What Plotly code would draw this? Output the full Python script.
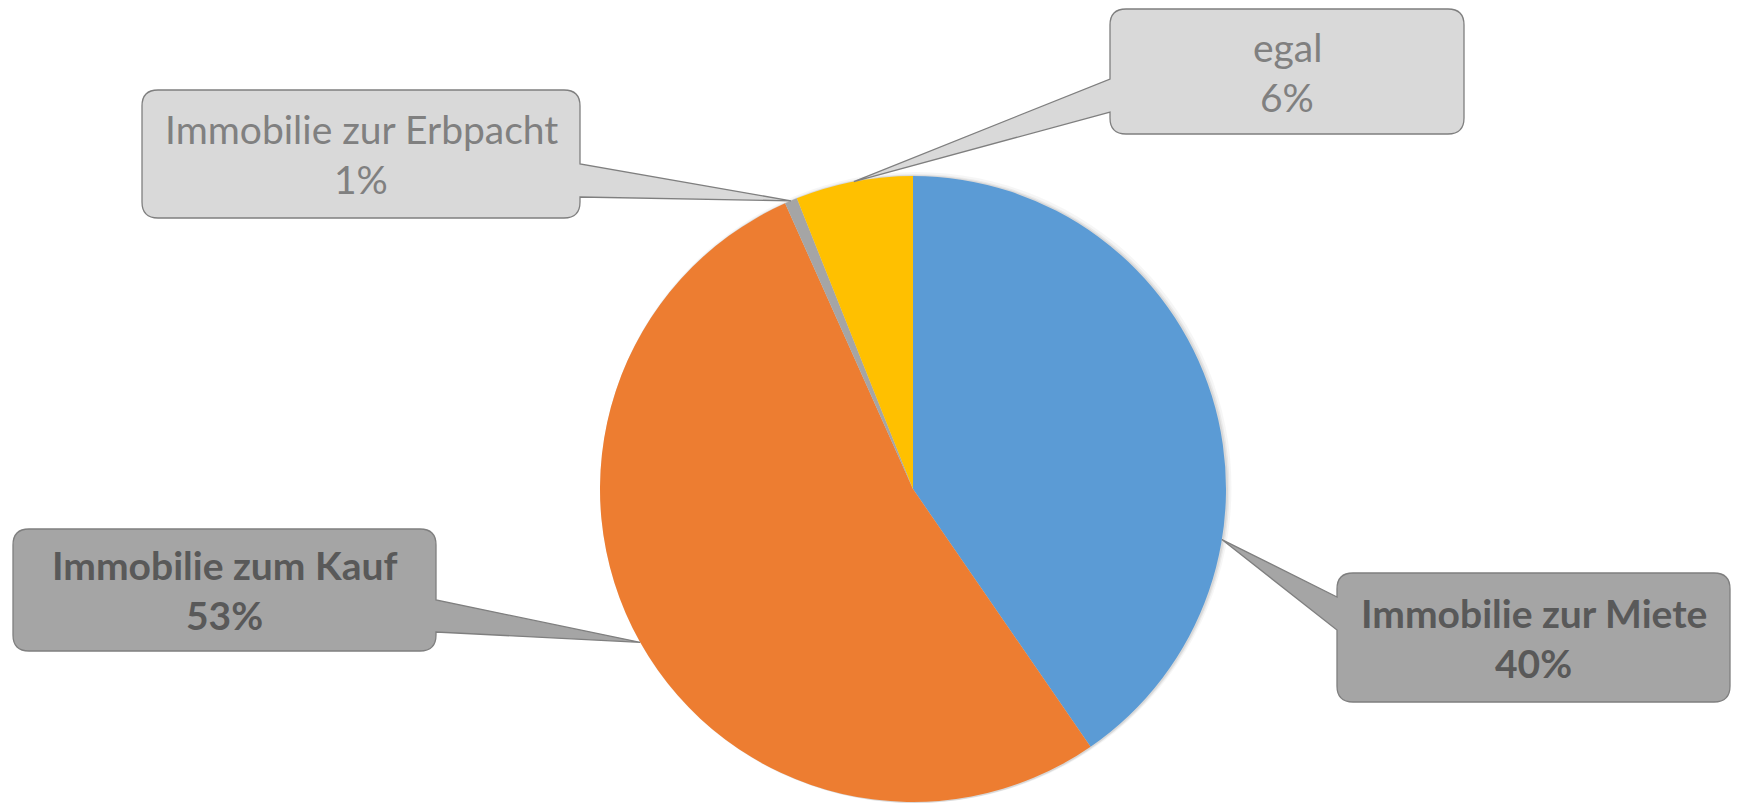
import math
import plotly.graph_objects as go

# ---- data ----
categories = ["Immobilie zur Miete", "Immobilie zum Kauf", "Immobilie zur Erbpacht", "egal"]
shares = [40.4, 52.9, 0.65, 6.05]
slice_colors = ["#5B9BD5", "#ED7D31", "#A5A5A5", "#FFC000"]

# ---- layout (pixels) ----
W, H = 1739, 803
PIE_CX, PIE_CY, PIE_R = 913, 489, 313

# callout boxes: (left, top, right, bottom), pointer side, pointer base y's, tip angle override
callouts = [
    dict(box=(1337, 573, 1730, 702), side="left", base=(597, 630), angle=99.3, dark=True),
    dict(box=(13, 529, 436, 651), side="right", base=(600, 632), angle=None, dark=True),
    dict(box=(142, 90, 580, 218), side="right", base=(164, 197), angle=None, dark=False),
    dict(box=(1110, 9, 1464, 134), side="left", base=(79, 112), angle=None, dark=False),
]

FONT = "Lato, 'Open Sans', sans-serif"
FONT_SIZE = 39


def P(x, y):
    return f"{x / W:.6f},{1 - y / H:.6f}"


def callout_path(box, side, base, tip, rad=16):
    l, t, r, b = box
    y1, y2 = base
    s = f"M{P(l + rad, t)} L{P(r - rad, t)} Q{P(r, t)} {P(r, t + rad)}"
    if side == "right":
        s += f" L{P(r, y1)} L{P(*tip)} L{P(r, y2)}"
    s += f" L{P(r, b - rad)} Q{P(r, b)} {P(r - rad, b)} L{P(l + rad, b)} Q{P(l, b)} {P(l, b - rad)}"
    if side == "left":
        s += f" L{P(l, y2)} L{P(*tip)} L{P(l, y1)}"
    s += f" L{P(l, t + rad)} Q{P(l, t)} {P(l + rad, t)} Z"
    return s


fig = go.Figure()

# soft shadow layers
for grow, alpha, off in [(7, 0.035, 3), (4, 0.05, 2), (2, 0.07, 1)]:
    r = PIE_R + grow
    cx, cy = PIE_CX + off, PIE_CY + off
    fig.add_trace(go.Pie(
        values=[1], labels=["shadow"], sort=False,
        marker=dict(colors=[f"rgba(0,0,0,{alpha})"], line=dict(width=0)),
        textinfo="none", hoverinfo="skip", showlegend=False,
        domain=dict(x=[(cx - r) / W, (cx + r) / W],
                    y=[max(0, 1 - (cy + r) / H), 1 - (cy - r) / H]),
    ))

fig.add_trace(go.Pie(
    labels=categories, values=shares, sort=False, direction="clockwise", rotation=0,
    marker=dict(colors=slice_colors, line=dict(width=0)),
    textinfo="none", showlegend=False,
    domain=dict(x=[(PIE_CX - PIE_R) / W, (PIE_CX + PIE_R) / W],
                y=[1 - (PIE_CY + PIE_R) / H, 1 - (PIE_CY - PIE_R) / H]),
))

total = sum(shares)
cum = 0.0
shapes = []
annotations = []
for cat, v, c in zip(categories, shares, callouts):
    mid = (cum + v / 2) / total * 360
    cum += v
    ang = c["angle"] if c["angle"] is not None else mid
    th = math.radians(ang)
    tip = (PIE_CX + PIE_R * math.sin(th), PIE_CY - PIE_R * math.cos(th))
    fill = "#A5A5A5" if c["dark"] else "#D9D9D9"
    shapes.append(dict(type="path", xref="paper", yref="paper",
                       path=callout_path(c["box"], c["side"], c["base"], tip),
                       fillcolor=fill, line=dict(color="#7F7F7F", width=1.3), layer="above"))
    l, t, r, b = c["box"]
    bx = (l + r) / 2
    by = (t + b) / 2
    pct = f"{round(v / total * 100)}%"
    col = "#595959" if c["dark"] else "#808080"
    for txt, dy in [(cat, -25), (pct, 25)]:
        if c["dark"]:
            txt = f"<b>{txt}</b>"
        annotations.append(dict(x=bx / W, y=1 - (by + dy) / H, xref="paper", yref="paper",
                                text=txt, showarrow=False, xanchor="center", yanchor="middle",
                                font=dict(family=FONT, size=FONT_SIZE, color=col)))

fig.update_layout(
    width=W, height=H, margin=dict(l=0, r=0, t=0, b=0),
    paper_bgcolor="white", plot_bgcolor="white",
    shapes=shapes, annotations=annotations, showlegend=False,
)

fig.write_html("out.html", config={"displayModeBar": False},
               post_script="document.body.style.margin='0';")
